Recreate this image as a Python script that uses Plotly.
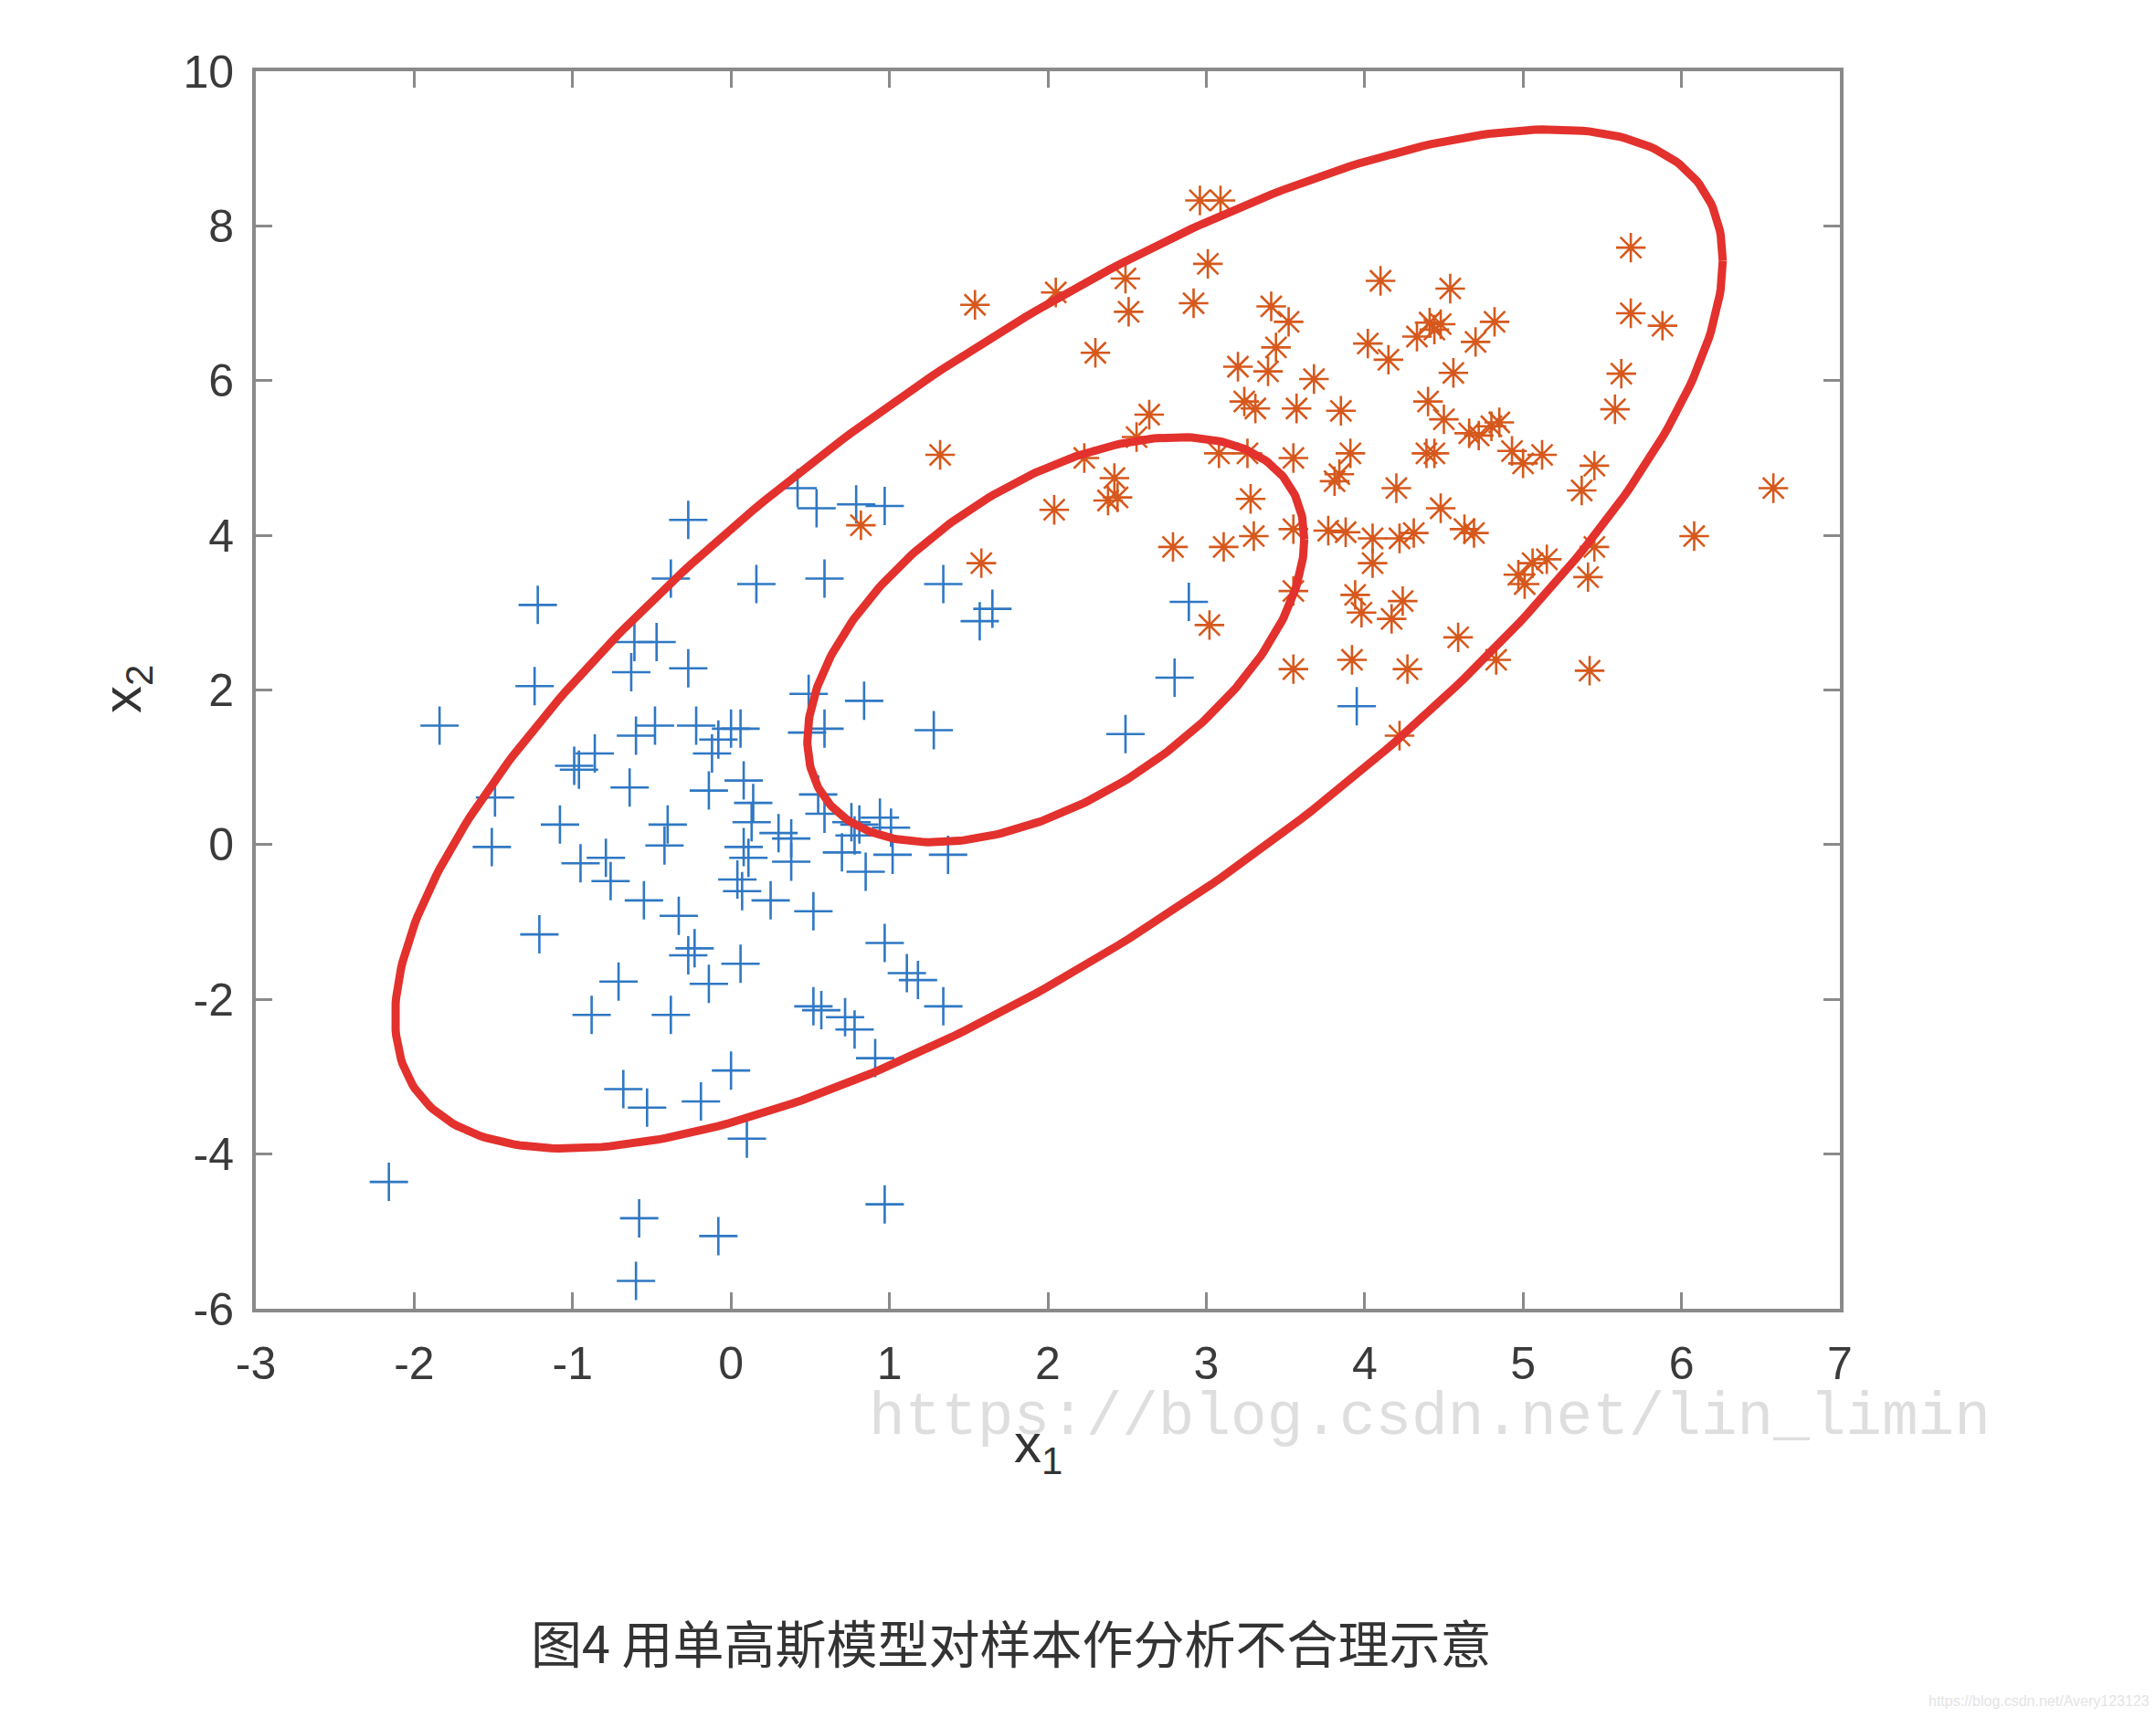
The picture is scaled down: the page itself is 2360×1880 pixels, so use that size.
import numpy as np
import plotly.graph_objects as go

# ---- data ----
blue_x = [-2.16, -1.84, -1.22, -1.24, -1.21, -1.49, -1.51, -1.08, -0.99, -0.96, -0.86, -0.95, -0.79,
          -0.76, -0.88, -0.71, -0.68, -0.53, -0.58, -0.60, -0.61, -0.47, -0.63, -0.27, -0.27, -0.38,
          -0.60, -0.48, -0.64, -0.40, -0.42, -0.55, -0.33, -0.27, -0.23, -0.38, -0.19, -0.22, -0.12,
          -0.08, 0.00, 0.06, -0.14, -0.14, 0.00, 0.06, 0.10, -0.08, 0.08, 0.14, 0.13, 0.08, 0.11,
          0.04, 0.07, 0.25, 0.30, 0.38, 0.38, 0.16, 0.42, 0.54, 0.79, 0.97, 0.59, 0.49, 0.59, 0.84,
          1.28, 0.48, 0.55, 0.59, 0.52, 0.52, 0.57, 0.70, 0.78, 0.81, 0.76, 0.94, 1.01, 1.02, 0.85,
          0.72, 0.78, 0.91, 0.97, 1.11, 1.18, 1.37, 1.34, 0.97, 1.34, 1.57, 1.65, 2.89, 2.80, 2.49,
          3.95]
blue_y = [-4.36, 1.54, 3.10, 2.05, -1.16, 0.61, -0.03, 0.26, 1.02, 0.97, 1.18, -0.24, -0.17,
          -0.47, -2.20, -1.77, -3.16, -3.40, -4.83, -5.64, 2.62, 2.62, 2.23, 2.28, 4.20, 3.44,
          1.41, 1.54, 0.74, 0.26, -0.01, -0.72, -0.92, -1.43, -1.34, -2.20, -3.32, 1.54, 1.18,
          1.36, 1.50, 1.50, 0.70, -1.80, -2.92, -1.54, -3.80, -5.06, 0.83, 0.54, 0.29, -0.03, -0.17,
          -0.45, -0.60, -0.72, 0.15, 0.08, -0.22, 3.37, 4.61, 4.35, 4.40, 4.38, 3.44, 1.95, 1.50, 1.86,
          1.48, 1.45, 0.65, 0.40, -0.86, -2.09, -2.14, -0.10, 0.12, 0.26, 0.29, 0.35, 0.22, -0.13, -0.35,
          -2.23, -2.39, -2.76, -1.27, -1.66, -1.75, -0.13, -2.09, -4.65, 3.37, 2.89, 3.05, 3.14, 2.16, 1.43,
          1.79]

orange_x = [1.54, 2.05, 2.96, 3.09, 2.49, 2.51, 3.01, 2.92, 2.30, 1.32, 2.64, 2.23, 2.56, 3.41,
            3.52, 3.44, 3.20, 3.24, 3.31, 3.39, 3.57, 3.68, 3.85, 4.10, 4.54, 4.02, 4.15, 4.33,
            4.41, 4.48, 4.44, 4.70, 4.82, 4.56, 4.40, 4.50, 4.66, 4.72, 4.80, 4.85, 4.93, 5.00,
            5.12, 4.44, 4.39, 4.48, 4.20, 5.68, 5.68, 5.88, 5.62, 5.58, 5.45, 5.37, 6.58, 6.08,
            3.91, 3.81, 3.84, 3.55, 3.55, 3.77, 3.88, 4.05, 4.05, 3.94, 3.98, 4.22, 4.31, 4.63,
            4.69, 4.24, 4.17, 4.59, 4.27, 3.92, 3.55, 4.22, 4.83, 5.42, 4.97, 5.06, 5.15, 5.41,
            5.45, 5.01, 3.55, 3.30, 3.28, 3.11, 2.79, 3.08, 3.26, 3.02, 2.42, 2.38, 2.44, 2.04,
            1.58, 0.82]
orange_y = [6.98, 7.14, 8.33, 8.33, 7.32, 6.89, 7.51, 7.00, 6.36, 5.04, 5.56, 5.00, 5.27, 6.96,
            6.76, 6.43, 6.18, 5.73, 5.64, 6.12, 5.64, 6.02, 5.61, 7.29, 7.19, 6.48, 6.27, 6.57,
            6.75, 6.73, 6.66, 6.50, 6.76, 6.10, 5.73, 5.50, 5.32, 5.29, 5.41, 5.46, 5.09, 4.93,
            5.04, 5.06, 5.06, 4.35, 4.61, 7.72, 6.87, 6.71, 6.09, 5.63, 4.90, 4.58, 4.61, 3.99,
            5.06, 4.70, 4.79, 5.00, 4.08, 4.06, 4.04, 3.96, 3.64, 3.23, 3.00, 3.96, 4.03, 4.08,
            4.03, 3.15, 2.92, 2.68, 2.27, 2.39, 2.27, 1.41, 2.39, 2.25, 3.49, 3.64, 3.69, 3.46,
            3.85, 3.37, 3.28, 3.99, 4.47, 3.85, 3.85, 5.06, 5.06, 2.84, 4.74, 4.45, 4.49, 4.33,
            3.64, 4.13]

# single-Gaussian contour parameters (centre and scaled covariance)
outer_center = [2.07, 2.66]
outer_cov = [[17.56, 20.49], [20.49, 43.4]]
inner_center = [2.05, 2.65]
inner_cov = [[2.46, 2.04], [2.04, 6.86]]

x_ticks = list(range(-3, 8))
y_ticks = list(range(-6, 11, 2))

BLUE = "#2f78c4"
ORANGE = "#d6581c"
RED = "#e3312d"


def ellipse(center, cov, n=400):
    t = np.linspace(0, 2 * np.pi, n)
    L = np.linalg.cholesky(np.array(cov))
    pts = L @ np.vstack([np.cos(t), np.sin(t)])
    return pts[0] + center[0], pts[1] + center[1]


fig = go.Figure()

fig.add_trace(go.Scatter(
    x=blue_x, y=blue_y, mode="markers",
    marker=dict(symbol="cross-thin-open", size=30, color=BLUE, line=dict(color=BLUE, width=2.6)),
    showlegend=False, hoverinfo="skip"))
fig.add_trace(go.Scatter(
    x=orange_x, y=orange_y, mode="markers",
    marker=dict(symbol="asterisk-open", size=27, color=ORANGE, line=dict(color=ORANGE, width=2.6)),
    showlegend=False, hoverinfo="skip"))

for c, cov in [(outer_center, outer_cov), (inner_center, inner_cov)]:
    ex, ey = ellipse(c, cov)
    fig.add_trace(go.Scatter(x=ex, y=ey, mode="lines",
                             line=dict(color=RED, width=9),
                             showlegend=False, hoverinfo="skip"))

axis_common = dict(
    showgrid=False, zeroline=False, showline=True, linecolor="#8a8a8a", linewidth=4,
    mirror="ticks", ticks="inside", ticklen=18, tickwidth=3, tickcolor="#8a8a8a",
    tickfont=dict(family="Liberation Sans, Arial, sans-serif", size=50, color="#3a3a3a"),
)

fig.update_xaxes(range=[-3, 7], tickvals=x_ticks, ticktext=[str(v) for v in x_ticks],
                 ticklabelstandoff=13, **axis_common)
fig.update_yaxes(range=[-6, 10], tickvals=y_ticks, ticktext=[str(v) for v in y_ticks],
                 ticklabelstandoff=10, **axis_common)

W, H = 2360, 1880
L_, R_, T_, B_ = 280, 346, 78, 447
pw, ph = W - L_ - R_, H - T_ - B_


def px(x):
    return (x - L_) / pw


def py(y):
    return (H - B_ - y) / ph


annotations = [
    dict(x=px(1565), y=py(1552), text="https://blog.csdn.net/lin_limin",
         font=dict(family="Liberation Mono, DejaVu Sans Mono, monospace", size=66, color="#dedede")),
    dict(x=px(1136), y=py(1585), text="x<sub>1</sub>",
         font=dict(family="Liberation Sans, Arial, sans-serif", size=60, color="#333333")),
    dict(x=px(138), y=py(755), text="x<sub>2</sub>", textangle=-90,
         font=dict(family="Liberation Sans, Arial, sans-serif", size=60, color="#333333")),
    dict(x=px(1107), y=py(1797), text="图4 用单高斯模型对样本作分析不合理示意",
         font=dict(family="Noto Sans CJK SC, sans-serif", size=56, color="#333333")),
    dict(x=px(2232), y=py(1862), text="https://blog.csdn.net/Avery123123",
         font=dict(family="Liberation Sans, Arial, sans-serif", size=16, color="#e4e4e4")),
]
for a in annotations:
    a.update(xref="paper", yref="paper", showarrow=False, xanchor="center", yanchor="middle")

fig.update_layout(
    width=W, height=H,
    margin=dict(l=L_, r=R_, t=T_, b=B_),
    paper_bgcolor="white", plot_bgcolor="white",
    annotations=annotations,
)

fig.write_html("out.html")
